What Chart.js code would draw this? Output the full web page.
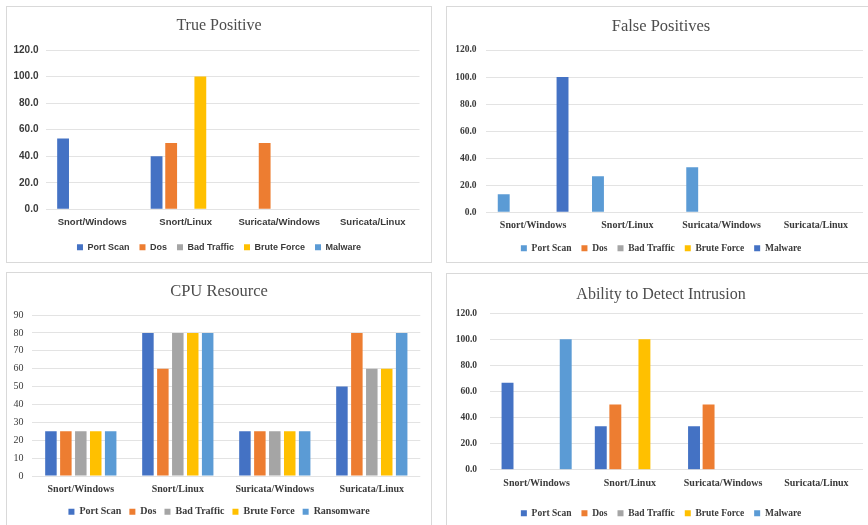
<!DOCTYPE html>
<html>
<head>
<meta charset="utf-8">
<script src="https://cdn.jsdelivr.net/npm/chart.js@4/dist/chart.umd.min.js"></script>
<style>
  html, body { margin: 0; padding: 0; background: #fff; width: 868px; height: 525px; overflow: hidden; position: relative; }
  .frame { position: absolute; box-sizing: border-box; border: 1px solid #d9d9d9; background: #fff; }
  canvas.plot { position: absolute; }
</style>
</head>
<body>
<div class="frame" id="f1"></div><canvas class="plot" id="c1"></canvas>
<div class="frame" id="f2"></div><canvas class="plot" id="c2"></canvas>
<div class="frame" id="f3"></div><canvas class="plot" id="c3"></canvas>
<div class="frame" id="f4"></div><canvas class="plot" id="c4"></canvas>
<script>
// ---- data ----
const categories = ['Snort/Windows', 'Snort/Linux', 'Suricata/Windows', 'Suricata/Linux'];
const attackSeries = ['Port Scan', 'Dos', 'Bad Traffic', 'Brute Force', 'Malware'];
const cpuSeries = ['Port Scan', 'Dos', 'Bad Traffic', 'Brute Force', 'Ransomware'];

// True Positive (%)
const tpPortScan   = [53.3, 40.0, 0, 0];
const tpDos        = [0, 50.0, 50.0, 0];
const tpBadTraffic = [0, 0, 0, 0];
const tpBruteForce = [0, 100.0, 0, 0];
const tpMalware    = [0, 0, 0, 0];

// False Positives (%)
const fpPortScan   = [13.3, 26.7, 33.3, 0];
const fpDos        = [0, 0, 0, 0];
const fpBadTraffic = [0, 0, 0, 0];
const fpBruteForce = [0, 0, 0, 0];
const fpMalware    = [100.0, 0, 0, 0];

// CPU Resource
const cpuPortScan   = [25, 80, 25, 50];
const cpuDos        = [25, 60, 25, 80];
const cpuBadTraffic = [25, 80, 25, 60];
const cpuBruteForce = [25, 80, 25, 60];
const cpuRansomware = [25, 80, 25, 80];

// Ability to Detect Intrusion (%)
const adPortScan   = [66.7, 33.3, 33.3, 0];
const adDos        = [0, 50.0, 50.0, 0];
const adBadTraffic = [0, 0, 0, 0];
const adBruteForce = [0, 100.0, 0, 0];
const adMalware    = [100.0, 0, 0, 0];

// percentage axis ticks and CPU axis ticks
const pctTicks = { min: 0, max: 120, step: 20 };
const cpuTicks = { min: 0, max: 90, step: 10 };

// ---- styling ----
const BLUE = '#4472C4', ORANGE = '#ED7D31', GREY = '#A5A5A5', GOLD = '#FFC000', SKY = '#5B9BD5';
const TEXT = '#3a3a3a';
const SERIF = '"Liberation Serif", "Times New Roman", serif';
const SANS = '"Liberation Sans", Arial, sans-serif';

function place(id, box) {
  const el = document.getElementById(id);
  el.style.left = box.x + 'px'; el.style.top = box.y + 'px';
  el.style.width = box.w + 'px'; el.style.height = box.h + 'px';
}

// Builds one bar chart inside its framed box so that the plot area,
// title, category labels and legend sit at the requested rows.
function drawPanel(n, spec) {
  const { box, area, titleY, catY, legendY, yTickRight } = spec;
  place('f' + n, box);
  const cv = document.getElementById('c' + n);
  cv.width = box.w; cv.height = box.h;
  cv.style.left = box.x + 'px'; cv.style.top = box.y + 'px';

  const rightGap = box.x + box.w - area.r;           // empty strip right of the plot
  const yAxisW = area.l - box.x;
  const titleLH = spec.titleSize * 1.2;
  const titleTop = titleY - box.y - titleLH / 2;
  const titleBottomPad = (area.t - box.y) - (titleTop + titleLH);
  const itemH = Math.max(spec.legendSize, 6);
  const legendPad = spec.legendPad;
  const legendTop = legendY - box.y - legendPad - itemH / 2;
  const legendBottom = legendY - box.y + itemH / 2 + 10;
  const bottomPad = box.h - legendBottom;
  const xAxisH = legendTop - (area.b - box.y);
  const xTickPad = catY - area.b - spec.catSize * 0.6;

  return new Chart(cv, {
    type: 'bar',
    data: {
      labels: categories,
      datasets: spec.series.map((s) => ({
        label: s.label, data: s.data, backgroundColor: s.color, borderWidth: 0
      }))
    },
    options: {
      responsive: false,
      animation: false,
      events: [],
      datasets: { bar: { categoryPercentage: spec.catPct, barPercentage: spec.barPct } },
      layout: { padding: { left: 0, right: 0, top: 0, bottom: bottomPad } },
      plugins: {
        title: {
          display: true, text: spec.title, color: '#4d4d4d',
          font: { family: SERIF, size: spec.titleSize, weight: 'normal', lineHeight: 1.2 },
          padding: { top: titleTop, bottom: titleBottomPad }
        },
        legend: {
          display: true, position: 'bottom',
          labels: {
            color: TEXT, boxWidth: 6, boxHeight: 6, padding: legendPad,
            font: { family: spec.family, size: spec.legendSize, weight: 'bold', lineHeight: 1.2 }
          }
        },
        tooltip: { enabled: false }
      },
      scales: {
        x: {
          grid: { display: false, drawTicks: false },
          border: { display: false },
          ticks: {
            color: TEXT, padding: xTickPad, maxRotation: 0, autoSkip: false,
            font: { family: spec.family, size: spec.catSize, weight: 'bold', lineHeight: 1.2 }
          },
          afterFit: (scale) => { scale.height = xAxisH; }
        },
        y: {
          min: spec.ticks.min, max: spec.ticks.max,
          grid: { color: '#e3e3e3', lineWidth: 1, drawTicks: false },
          border: { display: false },
          ticks: {
            stepSize: spec.ticks.step, color: TEXT,
            padding: area.l - yTickRight,
            font: { family: spec.yFamily || spec.family, size: spec.yTickSize, weight: spec.yWeight || 'bold' },
            callback: spec.fmt
          },
          afterFit: (scale) => { scale.width = yAxisW; }
        },
        // blank strip on the right so the plot ends short of the frame
        gap: {
          type: 'linear', axis: 'y', position: 'right', display: true,
          grid: { display: false, drawTicks: false },
          border: { display: false },
          ticks: { display: false },
          afterFit: (scale) => { scale.width = rightGap; }
        }
      }
    }
  });
}

const oneDecimal = (v) => Number(v).toFixed(1);
const integer = (v) => String(v);

drawPanel(1, {
  title: 'True Positive',
  box: { x: 6, y: 6, w: 426, h: 257 },
  area: { l: 45.5, r: 419.5, t: 50, b: 209.3 },
  titleY: 26, catY: 222.7, legendY: 247.3, yTickRight: 38.5,
  titleSize: 16, family: SANS, catSize: 9.5, yTickSize: 10, legendSize: 9, legendPad: 10,
  catPct: 0.78, barPct: 0.81,
  ticks: pctTicks, fmt: oneDecimal,
  series: [
    { label: attackSeries[0], data: tpPortScan, color: BLUE },
    { label: attackSeries[1], data: tpDos, color: ORANGE },
    { label: attackSeries[2], data: tpBadTraffic, color: GREY },
    { label: attackSeries[3], data: tpBruteForce, color: GOLD },
    { label: attackSeries[4], data: tpMalware, color: SKY }
  ]
});

drawPanel(2, {
  title: 'False Positives',
  box: { x: 446, y: 6, w: 430, h: 257 },
  area: { l: 486, r: 863, t: 50, b: 212.3 },
  titleY: 26.7, catY: 225.3, legendY: 248.3, yTickRight: 476.5,
  titleSize: 16.5, family: SERIF, catSize: 10, yTickSize: 9.5, legendSize: 9.5, legendPad: 10,
  catPct: 0.78, barPct: 0.81,
  ticks: pctTicks, fmt: oneDecimal,
  series: [
    { label: attackSeries[0], data: fpPortScan, color: SKY },
    { label: attackSeries[1], data: fpDos, color: ORANGE },
    { label: attackSeries[2], data: fpBadTraffic, color: GREY },
    { label: attackSeries[3], data: fpBruteForce, color: GOLD },
    { label: attackSeries[4], data: fpMalware, color: BLUE }
  ]
});

drawPanel(3, {
  title: 'CPU Resource',
  box: { x: 6, y: 272, w: 426, h: 262 },
  area: { l: 32.3, r: 420.3, t: 315, b: 476 },
  titleY: 291.7, catY: 489, legendY: 511.7, yTickRight: 23.5,
  titleSize: 16.5, family: SERIF, catSize: 10, yTickSize: 10, yWeight: 'normal', legendSize: 10, legendPad: 8,
  catPct: 0.77, barPct: 0.77,
  ticks: cpuTicks, fmt: integer,
  series: [
    { label: cpuSeries[0], data: cpuPortScan, color: BLUE },
    { label: cpuSeries[1], data: cpuDos, color: ORANGE },
    { label: cpuSeries[2], data: cpuBadTraffic, color: GREY },
    { label: cpuSeries[3], data: cpuBruteForce, color: GOLD },
    { label: cpuSeries[4], data: cpuRansomware, color: SKY }
  ]
});

drawPanel(4, {
  title: 'Ability to Detect Intrusion',
  box: { x: 446, y: 273, w: 430, h: 262 },
  area: { l: 490, r: 863, t: 313.3, b: 469.7 },
  titleY: 294.3, catY: 483.3, legendY: 513.3, yTickRight: 477,
  titleSize: 16, family: SERIF, catSize: 10, yTickSize: 9.5, legendSize: 9.5, legendPad: 10,
  catPct: 0.78, barPct: 0.82,
  ticks: pctTicks, fmt: oneDecimal,
  series: [
    { label: attackSeries[0], data: adPortScan, color: BLUE },
    { label: attackSeries[1], data: adDos, color: ORANGE },
    { label: attackSeries[2], data: adBadTraffic, color: GREY },
    { label: attackSeries[3], data: adBruteForce, color: GOLD },
    { label: attackSeries[4], data: adMalware, color: SKY }
  ]
});
</script>
</body>
</html>
